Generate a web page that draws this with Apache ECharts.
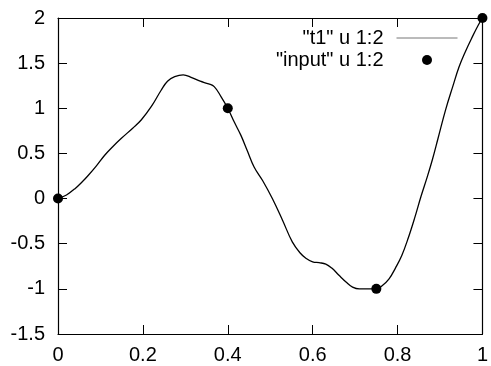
<!DOCTYPE html>
<html>
<head>
<meta charset="utf-8">
<script src="https://cdn.jsdelivr.net/npm/echarts@6/dist/echarts.min.js"></script>
<style>
  html, body { margin: 0; padding: 0; background: #fff; }
  #chart { width: 491px; height: 366px; }
</style>
</head>
<body>
<div id="chart"></div>
<script>
// "t1" u 1:2 (curve)
const curveX = [0, 0.02, 0.04, 0.06, 0.07, 0.09, 0.11, 0.13, 0.15, 0.176, 0.196, 0.22, 0.243, 0.258,
  0.275, 0.295, 0.315, 0.335, 0.355, 0.368, 0.384, 0.4, 0.415, 0.431, 0.446, 0.462, 0.482, 0.505,
  0.529, 0.552, 0.57, 0.584, 0.6, 0.615, 0.631, 0.645, 0.662, 0.68, 0.694, 0.71, 0.73, 0.75, 0.765,
  0.78, 0.795, 0.81, 0.825, 0.84, 0.855, 0.87, 0.882, 0.895, 0.913, 0.93, 0.945, 0.96, 0.976, 0.99, 1];
const curveY = [0, 0.04, 0.11, 0.2, 0.25, 0.36, 0.48, 0.58, 0.67, 0.78, 0.87, 1.02, 1.2, 1.3,
  1.35, 1.37, 1.34, 1.3, 1.27, 1.24, 1.13, 1.0, 0.85, 0.7, 0.53, 0.35, 0.2, 0.0,
  -0.24, -0.48, -0.6, -0.66, -0.7, -0.71, -0.725, -0.77, -0.85, -0.93, -0.98, -1.0, -1.0, -1.0, -0.96,
  -0.89, -0.77, -0.63, -0.44, -0.22, 0.02, 0.24, 0.43, 0.66, 0.98, 1.24, 1.46, 1.63, 1.79, 1.92, 2.0];

// "input" u 1:2
const inputX = [0, 0.4, 0.75, 1];
const inputY = [0, 1, -1, 2];

const seriesNames = ['"t1" u 1:2', '"input" u 1:2'];

const FONT = "'Liberation Sans', Arial, Helvetica, sans-serif";

const chart = echarts.init(document.getElementById("chart"), null, { renderer: "canvas" });

const axisLine = { show: true, onZero: false, lineStyle: { color: "#000", width: 1.2 } };
const axisTick = { show: true, inside: true, length: 9, lineStyle: { color: "#000", width: 1 } };
const labelStyle = { color: "#000", fontSize: 20, fontFamily: FONT };

const option = {
  animation: false,
  backgroundColor: "#fff",
  grid: { left: 58, right: 8, top: 18, bottom: 32 },
  legend: {
    orient: "vertical",
    right: 33,
    top: 28,
    padding: 0,
    itemGap: 2,
    align: "right",
    itemWidth: 61,
    itemHeight: 10,
    textStyle: { color: "#000", fontSize: 20, fontFamily: FONT, padding: [0, 8, 0, 0] },
    data: [
      {
        name: seriesNames[0],
        lineStyle: { color: "#777", width: 1, opacity: 1 },
        itemStyle: { opacity: 0 },
      },
      { name: seriesNames[1], icon: "circle", itemStyle: { color: "#000", opacity: 1 } },
    ],
  },
  xAxis: [
    {
      type: "value", min: 0, max: 1, interval: 0.2, position: "bottom",
      axisLine, axisTick, splitLine: { show: false },
      axisLabel: { ...labelStyle, margin: 11 },
    },
    {
      type: "value", min: 0, max: 1, interval: 0.2, position: "top",
      axisLine, axisTick, splitLine: { show: false }, axisLabel: { show: false },
    },
  ],
  yAxis: [
    {
      type: "value", min: -1.5, max: 2, interval: 0.5, position: "left",
      axisLine, axisTick, splitLine: { show: false },
      axisLabel: { ...labelStyle, margin: 13 },
    },
    {
      type: "value", min: -1.5, max: 2, interval: 0.5, position: "right",
      axisLine, axisTick, splitLine: { show: false }, axisLabel: { show: false },
    },
  ],
  series: [
    {
      name: seriesNames[0],
      type: "line",
      xAxisIndex: 0,
      yAxisIndex: 0,
      data: curveX.map((x, i) => [x, curveY[i]]),
      symbol: "none",
      smooth: 0.4,
      lineStyle: { color: "#000", width: 1.3 },
      itemStyle: { color: "#000" },
    },
    {
      name: seriesNames[1],
      type: "scatter",
      xAxisIndex: 0,
      yAxisIndex: 0,
      data: inputX.map((x, i) => [x, inputY[i]]),
      symbol: "circle",
      symbolSize: 10,
      clip: false,
      itemStyle: { color: "#000", opacity: 1 },
    },
  ],
};

chart.setOption(option);
</script>
</body>
</html>
